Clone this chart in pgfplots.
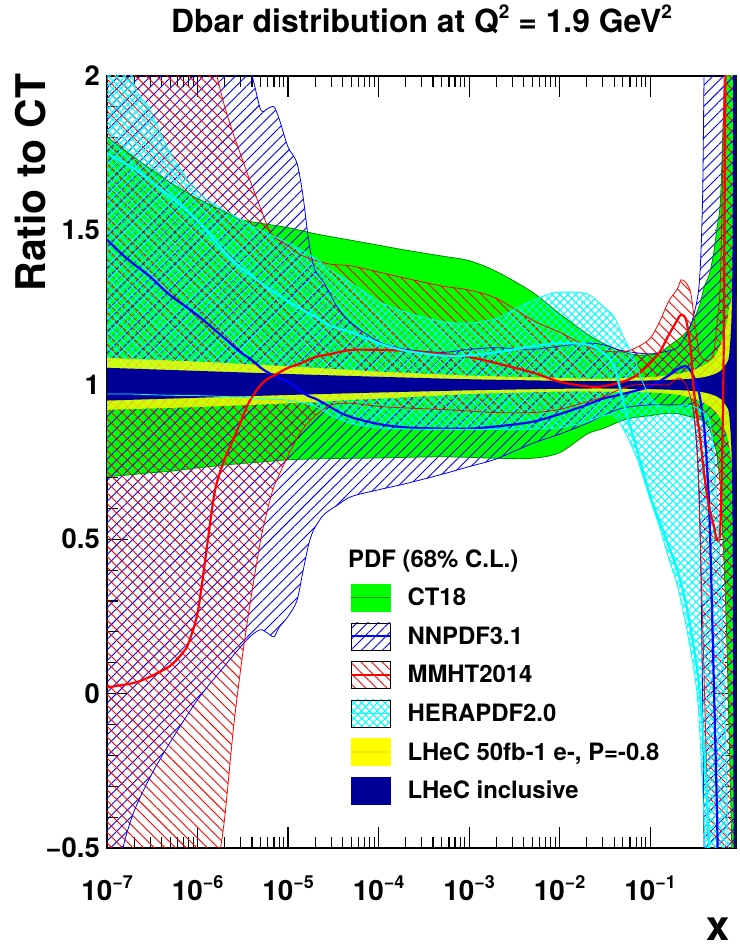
\documentclass[border=0pt]{standalone}
\usepackage{fontspec}
\setmainfont{TeX Gyre Heros}
\usepackage{pgfplots}
\pgfplotsset{compat=1.18}
\usepackage{pgfplotstable}
\usepgfplotslibrary{fillbetween}
\usetikzlibrary{patterns.meta}

\definecolor{ctgreen}{RGB}{0,255,0}
\definecolor{ctline}{RGB}{0,140,0}
\definecolor{lhecnavy}{RGB}{0,0,153}
\definecolor{rcyan}{RGB}{0,255,255}
\definecolor{ryellow}{RGB}{255,255,0}
\definecolor{rblue}{RGB}{0,0,255}
\definecolor{rred}{RGB}{255,0,0}

\newcommand\F[1]{\fontsize{#1}{#1}\selectfont\bfseries}
\newcommand\xtl[1]{10\raisebox{0.46em}{\fontsize{18}{18}\selectfont\bfseries −#1}}
\newcommand\tsup[1]{\raisebox{0.42em}{\fontsize{19}{19}\selectfont\bfseries #1}}

\pgfplotstableread{
x lo hi
1e-7 0.702 1.803
2e-7 0.710 1.736
3e-7 0.715 1.700
5e-7 0.720 1.655
1e-6 0.731 1.603
2e-6 0.740 1.560
3e-6 0.745 1.535
5e-6 0.750 1.523
1e-5 0.757 1.509
2e-5 0.760 1.489
5e-5 0.762 1.468
1e-4 0.763 1.452
2e-4 0.765 1.436
5e-4 0.767 1.417
1e-3 0.765 1.402
2e-3 0.762 1.367
5e-3 0.762 1.300
1e-2 0.780 1.230
2e-2 0.840 1.165
3e-2 0.858 1.135
5e-2 0.885 1.107
7e-2 0.895 1.097
0.1 0.900 1.097
0.13 0.905 1.105
0.16 0.908 1.125
0.2 0.907 1.145
0.25 0.900 1.170
0.3 0.895 1.210
0.35 0.890 1.255
0.4 0.880 1.320
0.45 0.860 1.356
0.5 0.820 1.420
0.55 0.770 1.510
0.6 0.660 1.600
0.65 0.450 1.890
0.7 0.200 2.050
0.75 -0.150 2.500
0.8 -0.500 3.000
0.89 -1.200 3.500
}\ctTbl

\pgfplotstableread{
x lo hi c
1e-7 -0.75 2.60 1.47
1.5e-7 -0.50 2.55 1.42
2e-7 -0.38 2.50 1.39
3e-7 -0.27 2.45 1.35
5e-7 -0.157 2.38 1.29
1e-6 -0.02 2.30 1.225
2e-6 0.09 2.16 1.15
3e-6 0.152 2.08 1.105
4e-6 0.19 2.00 1.08
5e-6 0.207 1.89 1.055
6e-6 0.195 1.895 1.04
7e-6 0.184 1.90 1.03
8e-6 0.215 1.86 1.02
1e-5 0.25 1.77 1.01
1.25e-5 0.30 1.72 0.99
1.45e-5 0.39 1.62 0.975
1.65e-5 0.47 1.49 0.965
1.8e-5 0.51 1.42 0.96
2e-5 0.54 1.37 0.955
2.5e-5 0.58 1.33 0.94
3.5e-5 0.61 1.252 0.915
5e-5 0.638 1.20 0.895
1e-4 0.66 1.14 0.873
2e-4 0.68 1.115 0.862
5e-4 0.71 1.105 0.858
1e-3 0.735 1.115 0.858
2e-3 0.76 1.12 0.865
5e-3 0.81 1.115 0.88
1e-2 0.84 1.125 0.905
2e-2 0.875 1.135 0.935
3e-2 0.90 1.13 0.955
5e-2 0.925 1.11 0.97
0.1 0.935 1.10 0.995
0.16 0.935 1.11 1.03
0.2 0.935 1.12 1.05
0.25 0.93 1.16 1.06
0.3 0.92 1.22 1.03
0.35 0.63 1.33 0.97
0.38 0.0 1.60 0.90
0.4 -0.6 2.10 0.85
0.45 -1.0 2.60 0.60
0.5 -1.2 2.80 0.10
0.55 -1.3 2.90 -0.40
0.6 -1.4 3.0 -0.90
0.89 -1.5 3.0 -1.5
}\nnTbl

\pgfplotstableread{
x lo hi c
1e-7 -1.50 3.20 0.02
2e-7 -1.35 3.00 0.035
3e-7 -1.25 2.90 0.055
5e-7 -1.12 2.70 0.09
7e-7 -1.03 2.50 0.135
8e-7 -1.00 2.42 0.165
1e-6 -0.95 2.30 0.26
1.2e-6 -0.85 2.18 0.42
1.5e-6 -0.68 2.05 0.63
1.7e-6 -0.55 1.98 0.70
2e-6 -0.40 1.90 0.76
2.5e-6 -0.11 1.81 0.825
3e-6 0.08 1.745 0.88
3.5e-6 0.22 1.69 0.929
4e-6 0.33 1.645 0.96
5e-6 0.50 1.57 1.00
6e-6 0.60 1.51 1.02
7e-6 0.67 1.48 1.03
1e-5 0.77 1.45 1.055
1.4e-5 0.85 1.42 1.07
2e-5 0.90 1.403 1.09
3e-5 0.935 1.39 1.10
5e-5 0.94 1.385 1.113
1e-4 0.93 1.365 1.113
2e-4 0.925 1.345 1.11
5e-4 0.92 1.32 1.10
1e-3 0.915 1.307 1.09
2e-3 0.91 1.28 1.07
5e-3 0.91 1.21 1.04
1e-2 0.92 1.17 1.01
2e-2 0.945 1.125 0.995
3e-2 0.96 1.11 0.995
5e-2 0.99 1.107 1.01
7e-2 1.00 1.12 1.03
0.1 1.00 1.15 1.07
0.13 1.00 1.21 1.11
0.16 1.00 1.27 1.16
0.2 1.02 1.31 1.21
0.22 1.02 1.34 1.227
0.25 1.00 1.33 1.21
0.28 0.96 1.30 1.12
0.3 0.92 1.24 1.00
0.33 0.80 1.15 0.90
0.35 0.60 1.10 0.85
0.4 0.00 1.08 0.70
0.45 -0.60 1.08 0.60
0.5 -1.00 1.10 0.55
0.55 -1.20 1.20 0.50
0.6 -1.30 1.35 0.55
0.65 -1.40 1.90 1.10
0.7 -1.50 2.50 2.30
0.89 -1.60 3.00 3.00
}\mmTbl

\pgfplotstableread{
x lo hi c
1e-7 0.97 3.00 1.75
1.5e-7 0.97 2.40 1.72
1.9e-7 0.97 2.00 1.705
3e-7 0.968 1.89 1.66
5e-7 0.966 1.75 1.61
1e-6 0.965 1.625 1.53
2e-6 0.962 1.565 1.43
3e-6 0.96 1.535 1.38
5e-6 0.955 1.50 1.33
1e-5 0.95 1.46 1.27
2e-5 0.93 1.41 1.22
3e-5 0.90 1.37 1.19
5e-5 0.875 1.33 1.17
1e-4 0.86 1.27 1.135
2e-4 0.857 1.235 1.11
5e-4 0.855 1.205 1.095
1e-3 0.855 1.20 1.095
2e-3 0.855 1.215 1.105
4e-3 0.855 1.26 1.12
7e-3 0.858 1.29 1.13
1e-2 0.86 1.30 1.135
2e-2 0.88 1.295 1.13
3e-2 0.90 1.255 1.105
4e-2 0.90 1.22 1.06
5e-2 0.86 1.16 0.95
7e-2 0.77 1.07 0.80
8e-2 0.72 1.02 0.74
0.1 0.63 0.96 0.64
0.13 0.53 0.93 0.55
0.16 0.44 0.925 0.48
0.2 0.35 0.93 0.40
0.25 0.22 0.935 0.29
0.3 0.09 0.93 0.16
0.33 0.00 0.925 0.08
0.35 -0.10 0.92 0.02
0.4 -0.45 0.91 -0.20
0.45 -0.90 0.89 -0.50
0.5 -1.20 0.80 -0.90
0.55 -1.40 0.60 -1.20
0.6 -1.50 0.40 -1.40
0.65 -1.60 0.10 -1.50
0.7 -1.70 -0.25 -1.60
0.75 -1.80 -0.60 -1.70
0.89 -2.00 -1.00 -2.00
}\heTbl

\pgfplotstableread{
x lo hi
1e-7 0.919 1.087
1e-6 0.928 1.075
1e-5 0.940 1.060
5e-5 0.951 1.048
1e-4 0.955 1.043
1e-3 0.970 1.030
3e-3 0.974 1.026
1e-2 0.978 1.022
3e-2 0.978 1.020
0.1 0.975 1.025
0.2 0.968 1.035
0.3 0.955 1.048
0.4 0.940 1.065
0.5 0.920 1.085
0.6 0.890 1.130
0.7 0.840 1.200
0.75 0.800 1.250
0.8 0.750 1.280
0.85 0.720 1.280
0.89 0.720 1.280
}\yeTbl

\pgfplotstableread{
x lo hi
1e-7 0.949 1.055
1e-6 0.958 1.045
1e-5 0.967 1.035
1e-4 0.975 1.026
1e-3 0.982 1.018
1e-2 0.987 1.013
3e-2 0.988 1.012
0.1 0.986 1.014
0.2 0.983 1.017
0.3 0.980 1.020
0.4 0.975 1.025
0.5 0.967 1.033
0.6 0.955 1.045
0.7 0.930 1.070
0.75 0.900 1.100
0.8 0.750 1.250
0.82 0.400 1.600
0.84 -0.500 2.500
0.89 -2.000 4.000
}\lhTbl

\pgfplotsset{sm/.style={smooth, tension=0.5}}

\begin{document}
\begin{tikzpicture}
\begin{axis}[
  at={(107bp,100bp)}, anchor=south west,
  scale only axis, width=629bp, height=772bp,
  xmode=log, xmin=1e-7, xmax=0.89, ymin=-0.5, ymax=2,
  xtick={1e-7,1e-6,1e-5,1e-4,1e-3,1e-2,1e-1},
  xticklabels={\xtl{7},\xtl{6},\xtl{5},\xtl{4},\xtl{3},\xtl{2},\xtl{1}},
  ytick={-0.5,0,0.5,1,1.5,2},
  yticklabels={−0.5,0,0.5,1,1.5,2},
  minor y tick num=4,
  tick align=inside,
  major tick length=21bp, minor tick length=11bp,
  tick style={black, line width=1.1bp},
  axis line style={line width=1.5bp},
  xticklabel style={font=\F{28}, anchor=base, inner sep=0pt, yshift=-53bp},
  yticklabel style={font=\F{27.5}, anchor=east, inner sep=0pt, xshift=-7bp},
  title={Dbar distribution at Q\tsup{2} = 1.9 GeV\tsup{2}},
  title style={at={(axis description cs:0.5,1)}, anchor=base, inner sep=0pt, yshift=38bp, font=\F{32}},
  xlabel={x},
  xlabel style={at={(axis description cs:1,0)}, anchor=base east, inner sep=0pt, yshift=-92bp, xshift=-6bp, font=\F{42}},
  ylabel={Ratio to CT},
  ylabel style={at={(axis description cs:-0.0985,1.003)}, anchor=base east, inner sep=0pt, font=\F{41}},
  legend style={at={(axis description cs:0.3863,0.342)}, anchor=north west, draw=none, fill=none, inner sep=0pt, outer sep=0pt, row sep=11.2bp, column sep=15bp, font=\F{24}, cells={anchor=west}},
]
% ---- CT18
\addplot[sm, draw=none, name path=ctU, forget plot] table[x=x,y=hi]{\ctTbl};
\addplot[sm, draw=none, name path=ctL, forget plot] table[x=x,y=lo]{\ctTbl};
\addplot[fill=ctgreen, draw=none, forget plot] fill between[of=ctU and ctL];
\addplot[sm, ctline, line width=0.8bp, forget plot] table[x=x,y=hi]{\ctTbl};
\addplot[sm, ctline, line width=0.8bp, forget plot] table[x=x,y=lo]{\ctTbl};
% ---- NNPDF3.1
\addplot[sm, draw=none, name path=nnU, forget plot] table[x=x,y=hi]{\nnTbl};
\addplot[sm, draw=none, name path=nnL, forget plot] table[x=x,y=lo]{\nnTbl};
\addplot[draw=none, pattern={Lines[angle=45,distance=7.5bp,line width=0.9bp]}, pattern color=rblue, forget plot] fill between[of=nnU and nnL];
\addplot[sm, rblue, line width=0.8bp, forget plot] table[x=x,y=hi]{\nnTbl};
\addplot[sm, rblue, line width=0.8bp, forget plot] table[x=x,y=lo]{\nnTbl};
\addplot[sm, rblue, line width=2.2bp, forget plot] table[x=x,y=c]{\nnTbl};
% ---- MMHT2014
\addplot[sm, draw=none, name path=mmU, forget plot] table[x=x,y=hi]{\mmTbl};
\addplot[sm, draw=none, name path=mmL, forget plot] table[x=x,y=lo]{\mmTbl};
\addplot[draw=none, pattern={Lines[angle=-45,distance=7.5bp,line width=0.9bp]}, pattern color=rred, forget plot] fill between[of=mmU and mmL];
\addplot[sm, rred, line width=0.8bp, forget plot] table[x=x,y=hi]{\mmTbl};
\addplot[sm, rred, line width=0.8bp, forget plot] table[x=x,y=lo]{\mmTbl};
\addplot[sm, rred, line width=2.2bp, forget plot] table[x=x,y=c]{\mmTbl};
% ---- HERAPDF2.0
\addplot[sm, draw=none, name path=heU, forget plot] table[x=x,y=hi]{\heTbl};
\addplot[sm, draw=none, name path=heL, forget plot] table[x=x,y=lo]{\heTbl};
\addplot[draw=none, pattern={Hatch[angle=45,distance=5.5bp,line width=1bp]}, pattern color=rcyan, forget plot] fill between[of=heU and heL];
\addplot[sm, rcyan, line width=0.8bp, forget plot] table[x=x,y=hi]{\heTbl};
\addplot[sm, rcyan, line width=0.8bp, forget plot] table[x=x,y=lo]{\heTbl};
\addplot[sm, rcyan, line width=2.2bp, forget plot] table[x=x,y=c]{\heTbl};
% ---- LHeC 50fb-1
\addplot[sm, draw=none, name path=yeU, forget plot] table[x=x,y=hi]{\yeTbl};
\addplot[sm, draw=none, name path=yeL, forget plot] table[x=x,y=lo]{\yeTbl};
\addplot[fill=ryellow, fill opacity=0.8, draw=none, forget plot] fill between[of=yeU and yeL];
% ---- LHeC inclusive
\addplot[sm, draw=none, name path=lhU, forget plot] table[x=x,y=hi]{\lhTbl};
\addplot[sm, draw=none, name path=lhL, forget plot] table[x=x,y=lo]{\lhTbl};
\addplot[fill=lhecnavy, draw=none, forget plot] fill between[of=lhU and lhL];

% ---- legend
\addlegendimage{legend image code/.code={\fill[ctgreen] (0bp,-13.5bp) rectangle (39bp,13.5bp); \draw[ctline,line width=1.6bp] (0bp,0bp)--(39bp,0bp);}}
\addlegendentry{CT18}
\addlegendimage{legend image code/.code={\fill[pattern={Lines[angle=45,distance=7.5bp,line width=0.9bp]}, pattern color=rblue] (0bp,-13.5bp) rectangle (39bp,13.5bp); \draw[rblue,line width=1.6bp] (0bp,0bp)--(39bp,0bp);}}
\addlegendentry{NNPDF3.1}
\addlegendimage{legend image code/.code={\fill[pattern={Lines[angle=-45,distance=7.5bp,line width=0.9bp]}, pattern color=rred] (0bp,-13.5bp) rectangle (39bp,13.5bp); \draw[rred,line width=1.6bp] (0bp,0bp)--(39bp,0bp);}}
\addlegendentry{MMHT2014}
\addlegendimage{legend image code/.code={\fill[pattern={Hatch[angle=45,distance=5.5bp,line width=1bp]}, pattern color=rcyan] (0bp,-13.5bp) rectangle (39bp,13.5bp); \draw[rcyan,line width=1.6bp] (0bp,0bp)--(39bp,0bp);}}
\addlegendentry{HERAPDF2.0}
\addlegendimage{legend image code/.code={\fill[ryellow] (0bp,-13.5bp) rectangle (39bp,13.5bp); \draw[ryellow!80!orange,line width=1.6bp] (0bp,0bp)--(39bp,0bp);}}
\addlegendentry{LHeC 50fb-1 e-, P=-0.8}
\addlegendimage{legend image code/.code={\fill[lhecnavy] (0bp,-13.5bp) rectangle (39bp,13.5bp);}}
\addlegendentry{LHeC inclusive}

\node[anchor=base west, inner sep=0pt, font=\F{24}] at (axis description cs:0.3831,0.3632) {PDF (68\% C.L.)};
\end{axis}
\pgfresetboundingbox
\path[use as bounding box] (0,0) rectangle (740bp,948bp);
\end{tikzpicture}
\end{document}
